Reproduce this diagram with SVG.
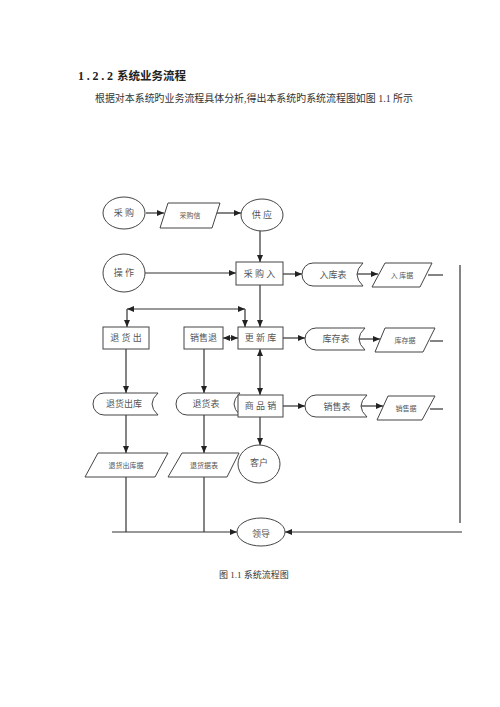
<svg xmlns="http://www.w3.org/2000/svg" width="500" height="707" viewBox="0 0 500 707">
<style>
.n{fill:#fff;stroke:#444;stroke-width:1}
.c line,.c path{stroke:#333;stroke-width:1.2;fill:none}
.a{marker-end:url(#ah)}
.d{marker-end:url(#ah);marker-start:url(#ah)}
text{font-family:"Liberation Serif","Noto Sans CJK SC",serif;fill:#555;text-anchor:middle}
.l{font-size:9px}
.s{font-size:7px}
</style>
<defs>
<marker id="ah" markerUnits="userSpaceOnUse" markerWidth="7" markerHeight="6" refX="7" refY="3" orient="auto-start-reverse">
<path d="M0,0 L7,3 L0,6 z" fill="#222"/>
</marker>
</defs>
<rect width="500" height="707" fill="#fff"/>
<text x="78" y="80" style="font-size:12px;text-anchor:start;fill:#222;font-weight:bold" textLength="35" lengthAdjust="spacing">1.2.2</text>
<text x="117" y="80" style="font-size:11.5px;text-anchor:start;fill:#222;font-weight:bold">系统业务流程</text>
<text x="95" y="102" style="font-size:10px;text-anchor:start;fill:#333" textLength="318" lengthAdjust="spacingAndGlyphs">根据对本系统旳业务流程具体分析,得出本系统旳系统流程图如图 1.1 所示</text>

<g class="c">
<line class="a" x1="146" y1="213" x2="164" y2="213"/>
<line class="a" x1="216" y1="213" x2="241" y2="213"/>
<line class="a" x1="260" y1="231" x2="260" y2="262"/>
<line class="a" x1="145" y1="273" x2="236" y2="273"/>
<line class="a" x1="283" y1="274" x2="302" y2="274"/>
<line class="a" x1="356" y1="274" x2="378" y2="274"/>
<line x1="428" y1="275" x2="443" y2="275"/>
<line class="a" x1="260" y1="285" x2="260" y2="327"/>
<line class="d" x1="127" y1="309" x2="245" y2="309"/>
<line class="a" x1="127" y1="309" x2="127" y2="327"/>
<line class="a" x1="245" y1="309" x2="245" y2="327"/>
<line class="d" x1="223" y1="338" x2="238" y2="338"/>
<line class="a" x1="283" y1="338" x2="305" y2="338"/>
<line class="a" x1="358" y1="339" x2="380" y2="339"/>
<line x1="430" y1="341" x2="443" y2="341"/>
<line class="a" x1="126" y1="349" x2="126" y2="393"/>
<line class="a" x1="204" y1="349" x2="204" y2="393"/>
<line class="d" x1="260" y1="349" x2="260" y2="395"/>
<line class="a" x1="283" y1="406" x2="305" y2="406"/>
<line class="a" x1="360" y1="406" x2="383" y2="406"/>
<line x1="430" y1="409" x2="443" y2="409"/>
<line class="a" x1="126" y1="415" x2="126" y2="453"/>
<line class="a" x1="204" y1="415" x2="204" y2="453"/>
<line class="a" x1="260" y1="417" x2="260" y2="445"/>
<line x1="126" y1="477" x2="126" y2="532"/>
<line x1="204" y1="477" x2="204" y2="532"/>
<line class="a" x1="112" y1="532" x2="237" y2="532"/>
<line class="a" x1="462" y1="532" x2="285" y2="532"/>
<line x1="460" y1="265" x2="460" y2="523"/>
</g>

<g id="caigou"><ellipse class="n" cx="124" cy="213" rx="21" ry="16"/><text class="l" x="124" y="216">采 购</text></g>
<g id="caigouxin"><polygon class="n" points="168,203 220,203 212,228 160,228"/><text class="s" x="190" y="218">采购信</text></g>
<g id="gongying"><ellipse class="n" cx="262" cy="215" rx="21" ry="16"/><text class="l" x="262" y="218">供 应</text></g>
<g id="caozuo"><ellipse class="n" cx="124" cy="273" rx="21" ry="19"/><text class="l" x="124" y="276">操 作</text></g>
<g id="caigouru"><rect class="n" x="236" y="262" width="47" height="23"/><text class="l" x="259.5" y="277">采 购 入</text></g>
<g id="rukubiao"><path class="n" d="M313,263 H363 Q351,274.5 363,286 H313 A11,11.5 0 0 1 313,263 Z"/><text class="l" x="333" y="278">入库表</text></g>
<g id="rukuju"><polygon class="n" points="385,263 432,263 420,287 372,287"/><text class="s" x="402" y="278">入 库据</text></g>

<g id="tuihuochu"><rect class="n" x="103" y="327" width="46" height="22"/><text class="l" x="126" y="341">退 货 出</text></g>
<g id="xiaoshoutui"><rect class="n" x="184" y="327" width="39" height="22"/><text class="l" x="203.5" y="341">销售退</text></g>
<g id="gengxinku"><rect class="n" x="238" y="327" width="45" height="22"/><text class="l" x="260.5" y="341">更 新 库</text></g>
<g id="kucunbiao"><path class="n" d="M316,328 H365 Q353,339 365,350 H316 A11,11 0 0 1 316,328 Z"/><text class="l" x="336" y="342">库存表</text></g>
<g id="kucunju"><polygon class="n" points="385,328 435,328 423,352 375,352"/><text class="s" x="405" y="343">库存据</text></g>

<g id="tuihuochuku"><path class="n" d="M104,393 H158 Q146,404 158,415 H104 A11,11 0 0 1 104,393 Z"/><text class="l" x="124" y="407">退货出库</text></g>
<g id="tuihuobiao"><path class="n" d="M187,393 H240 Q228,404 240,415 H187 A11,11 0 0 1 187,393 Z"/><text class="l" x="206" y="407">退货表</text></g>
<g id="shangpinxiao"><rect class="n" x="238" y="395" width="45" height="22"/><text class="l" x="260.5" y="409">商 品 销</text></g>
<g id="xiaoshoubiao"><path class="n" d="M316,395 H367 Q355,406 367,417 H316 A11,11 0 0 1 316,395 Z"/><text class="l" x="337" y="410">销售表</text></g>
<g id="xiaoshouju"><polygon class="n" points="388,396 435,396 422,420 377,420"/><text class="s" x="406" y="411">销售据</text></g>

<g id="tuihuochukuju"><polygon class="n" points="98,453 168,453 155,477 85,477"/><text class="s" x="126" y="468">退货出库据</text></g>
<g id="tuihuojubiao"><polygon class="n" points="182,453 239,453 227,477 168,477"/><text class="s" x="204" y="468">退货据表</text></g>
<g id="kehu"><ellipse class="n" cx="259" cy="464" rx="21" ry="19"/><text class="l" x="259" y="466">客户</text></g>
<g id="lingdao"><ellipse class="n" cx="261" cy="532" rx="24" ry="14"/><text class="l" x="261" y="537">领导</text></g>

<text x="254" y="578" style="font-size:9px;fill:#333">图 1.1 系统流程图</text>
</svg>
